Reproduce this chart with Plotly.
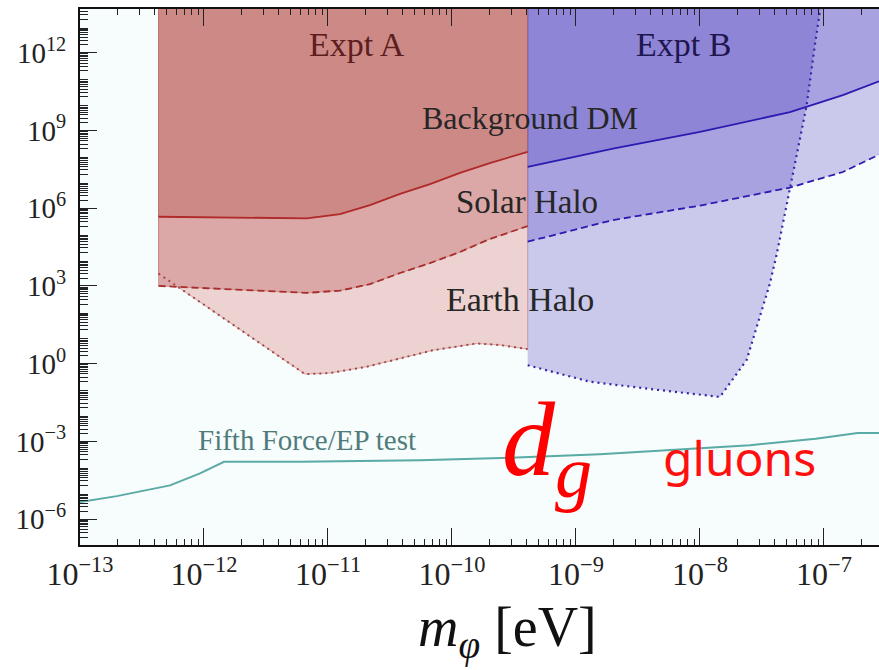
import plotly.graph_objects as go

# ---------------- data ----------------
X_RANGE_EXP = [-13.0, -6.556]
Y_RANGE_EXP = [-7.0, 13.69]
Y_TOP = 1e14

# Expt A (red)
a_mass = [4.3e-13, 1.62e-12, 6.73e-12, 1.25e-11, 2.18e-11, 3.81e-11, 6.65e-11,
          1.16e-10, 2.02e-10, 4.08e-10]
a_bg = [4.68e5, 4.37e5, 4.07e5, 5.9e5, 1.32e6, 3.55e6, 8.5e6, 2.3e7, 5.5e7, 1.51e8]
a_solar = [1.0e3, 7.4e2, 5.4e2, 6.6e2, 1.17e3, 3.16e3, 7.6e3, 2.04e4, 6.5e4, 2.04e5]
a_earth_mass = [4.3e-13, 6.53e-12, 1.04e-11, 2.05e-11, 7.06e-11, 1.58e-10, 2.44e-10, 4.08e-10]
a_earth = [3.0e3, 0.394, 0.436, 0.76, 3.3, 6.0, 5.25, 3.63]

# Expt B (blue)
b_mass = [4.08e-10, 1.99e-9, 1.0e-8, 5.32e-8, 1.42e-7, 2.78e-7]
b_bg = [3.98e7, 2.0e8, 8.9e8, 5.1e9, 2.34e10, 7.9e10]
b_solar = [5.1e4, 3.5e5, 1.26e6, 6.3e6, 2.5e7, 1.17e8]
b_earth_mass = [4.08e-10, 1.30e-9, 4.34e-9, 1.45e-8, 2.38e-8, 3.05e-8, 3.67e-8,
                4.18e-8, 5.32e-8, 7.24e-8, 8.45e-8, 9.29e-8, 9.55e-8]
b_earth = [0.87, 0.2, 0.1, 0.052, 1.38, 65, 1.26e3, 1.86e4, 5.0e6, 8.9e9, 2.0e12, 4.9e13, 1e14]

# Fifth force / EP test
ff_mass = [1e-13, 1.98e-13, 5.32e-13, 9.29e-13, 1.45e-12, 5.94e-12, 5.52e-11, 2.94e-10,
           1.56e-9, 5.04e-9, 2.53e-8, 8.59e-8, 1.87e-7, 2.78e-7]
ff_coupling = [4.6e-6, 7.7e-6, 2.0e-5, 5.8e-5, 1.62e-4, 1.62e-4, 1.88e-4, 2.34e-4,
               3.2e-4, 4.5e-4, 7.1e-4, 1.26e-3, 2.1e-3, 2.1e-3]

x_tick_exps = [-13, -12, -11, -10, -9, -8, -7]
y_decade_exps = list(range(-7, 14))
y_label_exps = [-6, -3, 0, 3, 6, 9, 12]


def sup_label(e):
    s = str(e).replace("-", "\u2212")
    return "10<sup>" + s + "</sup>"


x_tickvals = [10.0 ** e for e in x_tick_exps]
x_ticktext = [sup_label(e) for e in x_tick_exps]
y_tickvals = [10.0 ** e for e in y_label_exps]
y_ticktext = [sup_label(e) for e in y_label_exps]
y_decades = [10.0 ** e for e in y_decade_exps]
x_minor = [m * 10.0 ** e for e in range(-13, -6) for m in range(2, 10)]
y_minor = [m * 10.0 ** e for e in range(-7, 14) for m in range(2, 10)]

SERIF = "Liberation Serif"

fig = go.Figure()


def region(xs, ys, color, outline=None):
    fig.add_trace(go.Scatter(
        x=[xs[0]] + list(xs) + [xs[-1]],
        y=[Y_TOP] + list(ys) + [Y_TOP],
        mode="lines", fill="toself", fillcolor=color,
        line=dict(width=1 if outline else 0, color=outline or color),
        hoverinfo="skip", showlegend=False))


# red (opaque layers)
region(a_earth_mass, a_earth, "#ecd2d1", "rgba(180,90,90,0.45)")
region(a_mass, a_solar, "#dba8a7", "rgba(180,90,90,0.45)")
region(a_mass, a_bg, "#cd8986", "rgba(180,90,90,0.45)")

# blue (translucent layers)
BLUE_FILL = "rgba(67,47,187,0.25)"
region(b_earth_mass, b_earth, BLUE_FILL)
region(b_mass, b_solar, BLUE_FILL)
region(b_mass, b_bg, BLUE_FILL)


def curve(xs, ys, color, dash, width):
    fig.add_trace(go.Scatter(x=xs, y=ys, mode="lines",
                             line=dict(color=color, width=width, dash=dash),
                             hoverinfo="skip", showlegend=False))


curve(a_mass, a_bg, "#b02a2a", "solid", 1.8)
curve(a_mass, a_solar, "#a82e2e", "7px,4px", 1.8)
curve(a_earth_mass, a_earth, "#a84646", "2px,4px", 2.0)

curve(b_mass, b_bg, "#2a1cb0", "solid", 1.8)
curve(b_mass, b_solar, "#2a1cb0", "7px,4px", 1.8)
curve(b_earth_mass, b_earth, "#3526a8", "2px,4px", 2.2)

curve(ff_mass, ff_coupling, "#5aaaa5", "solid", 2.0)

# ---------------- text ----------------
def label(x_exp, y_exp, text, size, color, family=SERIF, xanchor="center"):
    fig.add_annotation(x=x_exp, y=y_exp, xref="x", yref="y", text=text,
                       showarrow=False, xanchor=xanchor, yanchor="middle",
                       font=dict(family=family, size=size, color=color))


label(-10.766, 12.336, "Expt A", 34, "#5c1e1e")
label(-8.129, 12.336, "Expt B", 34, "#1f1650")
label(-9.371, 9.479, "Background DM", 32, "#262626")
label(-9.395, 6.236, "Solar Halo", 33, "#262626")
label(-9.452, 2.49, "Earth Halo", 34, "#262626")
label(-11.169, -2.954, "Fifth Force/EP test", 29, "#4f7c7a")
label(-9.613, -3.2, "<i>d</i><sub><i>g</i></sub>", 106, "#ff0000", xanchor="left")
label(-7.685, -3.62, "gluons", 48, "#ff1010", family="Noto Sans")

fig.add_annotation(x=0.535, y=-0.162, xref="paper", yref="paper",
                   text="<i>m</i><sub><i>\u03c6</i></sub> [eV]", showarrow=False,
                   xanchor="center", yanchor="middle",
                   font=dict(family=SERIF, size=56, color="#111111"))

fig.update_xaxes(
    type="log", range=X_RANGE_EXP,
    tickmode="array", tickvals=x_tickvals, ticktext=x_ticktext,
    ticks="inside", ticklen=17, tickwidth=1.3, tickcolor="#222",
    minor=dict(tickmode="array", tickvals=x_minor, ticks="inside", ticklen=6,
               tickwidth=1.1, tickcolor="#222", showgrid=False),
    showline=True, linecolor="#111", linewidth=2, mirror="ticks",
    showgrid=False, zeroline=False,
    tickfont=dict(family=SERIF, size=32, color="#222"),
)

fig.update_layout(
    width=879, height=670,
    margin=dict(l=80, r=0, t=9, b=125),
    paper_bgcolor="white", plot_bgcolor="#f7fcfc",
    showlegend=False,
    yaxis=dict(
        type="log", range=Y_RANGE_EXP,
        tickmode="array", tickvals=y_tickvals, ticktext=y_ticktext,
        ticks="inside", ticklen=17, tickwidth=1.3, tickcolor="#222",
        minor=dict(tickmode="array", tickvals=y_minor, ticks="inside", ticklen=8,
                   tickwidth=1.1, tickcolor="#222", showgrid=False),
        showline=True, linecolor="#111", linewidth=2, mirror=False,
        showgrid=False, zeroline=False, ticklabelstandoff=6,
        tickfont=dict(family=SERIF, size=29, color="#222"),
    ),
    # unlabeled decade ticks on the same left axis
    yaxis2=dict(
        type="log", range=Y_RANGE_EXP, overlaying="y", side="left", anchor="x",
        tickmode="array", tickvals=y_decades, showticklabels=False,
        ticks="inside", ticklen=17, tickwidth=1.3, tickcolor="#222",
        showline=False, showgrid=False, zeroline=False,
    ),
)

fig.write_html("out.html")
